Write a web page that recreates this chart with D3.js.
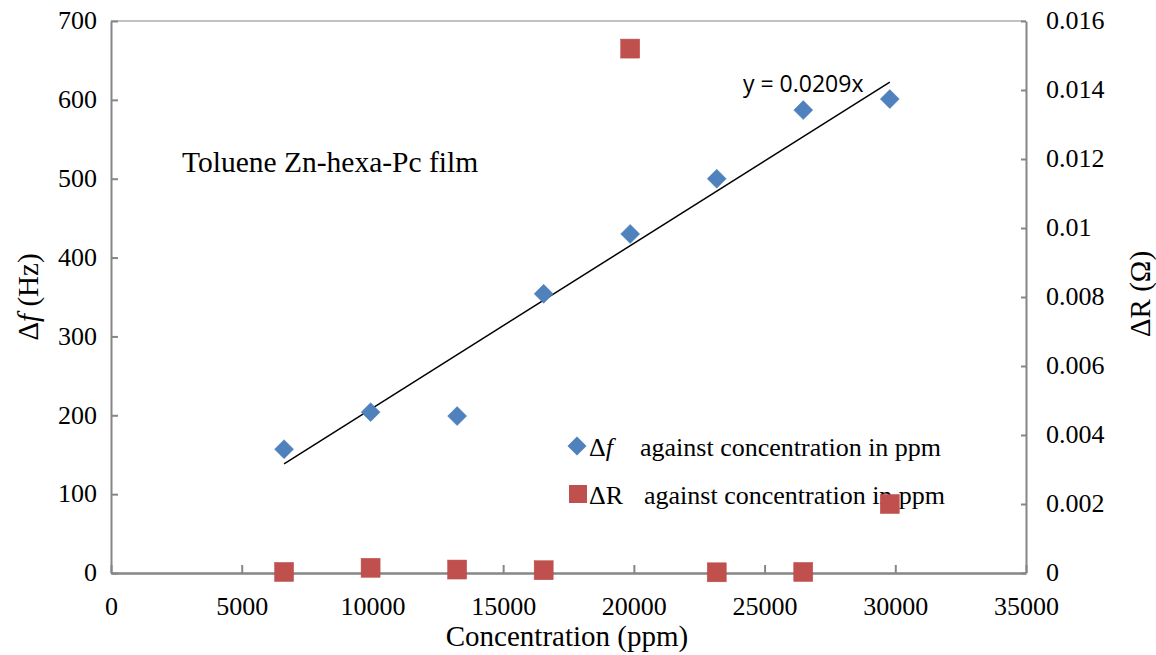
<!DOCTYPE html>
<html>
<head>
<meta charset="utf-8">
<script src="https://cdn.jsdelivr.net/npm/d3@7"></script>
<style>
  body { margin: 0; background: #fff; }
  text { font-family: "Liberation Serif", "Times New Roman", serif; fill: #000; }
</style>
</head>
<body>
<div id="chart"></div>
<script>
// Data ---------------------------------------------------------------------------------------------------------------
const concentration = [6620, 9930, 13240, 16550, 19860, 23170, 26480, 29790];
const deltaF = [157, 204, 199, 354, 430, 500, 587, 601];
const deltaR = [0.00003, 0.00015, 0.0001, 0.00008, 0.0152, 0.00002, 0.00003, 0.002];
const slope = 0.0209;
const xTicks = [0, 5000, 10000, 15000, 20000, 25000, 30000, 35000];
const yTicks = [0, 100, 200, 300, 400, 500, 600, 700];
const y2Ticks = [0, 0.002, 0.004, 0.006, 0.008, 0.01, 0.012, 0.014, 0.016];

// Canvas -------------------------------------------------------------------------------------------------------------
const canvasWidth = 1156;
const canvasHeight = 655;
const plotLeft = 111, plotRight = 1026, plotTop = 21, plotBottom = 573;
const axisColor = "#868686";
const tickFont = "26px";
const titleFont = "29px";

const svg = d3.select("#chart")
  .append("svg")
  .attr("width", canvasWidth)
  .attr("height", canvasHeight);

const xScale = d3.scaleLinear().domain([0, 35000]).range([plotLeft, plotRight]);
const yScale = d3.scaleLinear().domain([0, 700]).range([plotBottom, plotTop]);
const y2Scale = d3.scaleLinear().domain([0, 0.016]).range([plotBottom, plotTop]);

// Axes ---------------------------------------------------------------------------------------------------------------
svg.append("line")
  .attr("x1", plotLeft).attr("x2", plotRight).attr("y1", plotTop).attr("y2", plotTop)
  .style("stroke", axisColor);

const xAxis = svg.append("g")
  .attr("transform", "translate(0," + plotBottom + ")")
  .call(d3.axisBottom(xScale).tickValues(xTicks).tickSize(-8).tickSizeOuter(0).tickPadding(24).tickFormat(d3.format("d")));

const yAxis = svg.append("g")
  .attr("transform", "translate(" + plotLeft + ",0)")
  .call(d3.axisLeft(yScale).tickValues(yTicks).tickSize(-7).tickSizeOuter(0).tickPadding(14).tickFormat(d3.format("d")));

const y2Axis = svg.append("g")
  .attr("transform", "translate(" + plotRight + ",0)")
  .call(d3.axisRight(y2Scale).tickValues(y2Ticks).tickSize(-5).tickSizeOuter(0).tickPadding(20).tickFormat(d => d === 0 ? "0" : String(+d.toFixed(3))));

[xAxis, yAxis, y2Axis].forEach(function(axis) {
  axis.selectAll("path, line").style("stroke", axisColor).style("stroke-width", 2);
  axis.selectAll("text")
    .style("font-family", "Liberation Serif, serif")
    .style("font-size", tickFont)
    .style("fill", "#000");
});
xAxis.select("path").style("stroke-width", 2.5);
yAxis.selectAll("text").attr("dy", "0.3em");
y2Axis.selectAll("text").attr("dy", "0.3em").attr("text-anchor", "start");

// Axis titles
svg.append("text")
  .attr("x", 567)
  .attr("y", 646)
  .attr("text-anchor", "middle")
  .style("font-size", titleFont)
  .text("Concentration (ppm)");

const yLabel = svg.append("text")
  .attr("transform", "translate(38," + 297 + ") rotate(-90)")
  .attr("text-anchor", "middle")
  .style("font-size", titleFont);
yLabel.append("tspan").text("\u0394");
yLabel.append("tspan").style("font-style", "italic").text("f");
yLabel.append("tspan").text(" (Hz)");

svg.append("text")
  .attr("transform", "translate(1150," + 294 + ") rotate(-90)")
  .attr("text-anchor", "middle")
  .style("font-size", titleFont)
  .text("\u0394R (\u03A9)");

// Title
svg.append("text")
  .attr("x", 182)
  .attr("y", 172)
  .style("font-size", "29.5px")
  .text("Toluene Zn-hexa-Pc film");

// Trend line ---------------------------------------------------------------------------------------------------------
const xExtent = d3.extent(concentration);
svg.append("line")
  .attr("x1", xScale(xExtent[0])).attr("y1", yScale(slope * xExtent[0]))
  .attr("x2", xScale(xExtent[1])).attr("y2", yScale(slope * xExtent[1]))
  .style("stroke", "#000")
  .style("stroke-width", 1.5);

svg.append("text")
  .attr("x", 743)
  .attr("y", 92)
  .style("font-family", "Open Sans, Liberation Sans, sans-serif")
  .style("font-size", "23px")
  .text("y = " + slope + "x");

// Points -------------------------------------------------------------------------------------------------------------
const diamond = d3.symbol().type(d3.symbolSquare).size(180);

svg.append("g")
  .selectAll("path")
  .data(concentration)
  .join("path")
  .attr("d", diamond)
  .attr("transform", (d, i) => "translate(" + xScale(d) + "," + yScale(deltaF[i]) + ") rotate(45)")
  .style("fill", "#4F81BD")
  .style("stroke", "#4A7EBB")
  .style("stroke-width", 0.5);

// Legend -------------------------------------------------------------------------------------------------------------
const legend = svg.append("g");
legend.append("path")
  .attr("d", diamond)
  .attr("transform", "translate(577,446) rotate(45)")
  .style("fill", "#4F81BD");
const l1 = legend.append("text")
  .attr("x", 589).attr("y", 456)
  .style("font-size", tickFont);
l1.append("tspan").text("\u0394");
l1.append("tspan").style("font-style", "italic").text("f");
l1.append("tspan").attr("x", 640).text("against concentration in ppm");

legend.append("rect")
  .attr("x", 569).attr("y", 485).attr("width", 18).attr("height", 18)
  .style("fill", "#C0504D");
legend.append("text")
  .attr("x", 589).attr("y", 504)
  .style("font-size", tickFont)
  .text("\u0394R")
  .append("tspan").attr("x", 644).text("against concentration in ppm");

// Squares drawn above legend text as in the source
const sq = 19;
svg.append("g")
  .selectAll("rect")
  .data(concentration)
  .join("rect")
  .attr("x", d => xScale(d) - sq / 2)
  .attr("y", (d, i) => y2Scale(deltaR[i]) - sq / 2)
  .attr("width", sq)
  .attr("height", sq)
  .style("fill", "#C0504D")
  .style("stroke", "#BE4B48")
  .style("stroke-width", 0.5);
</script>
</body>
</html>
